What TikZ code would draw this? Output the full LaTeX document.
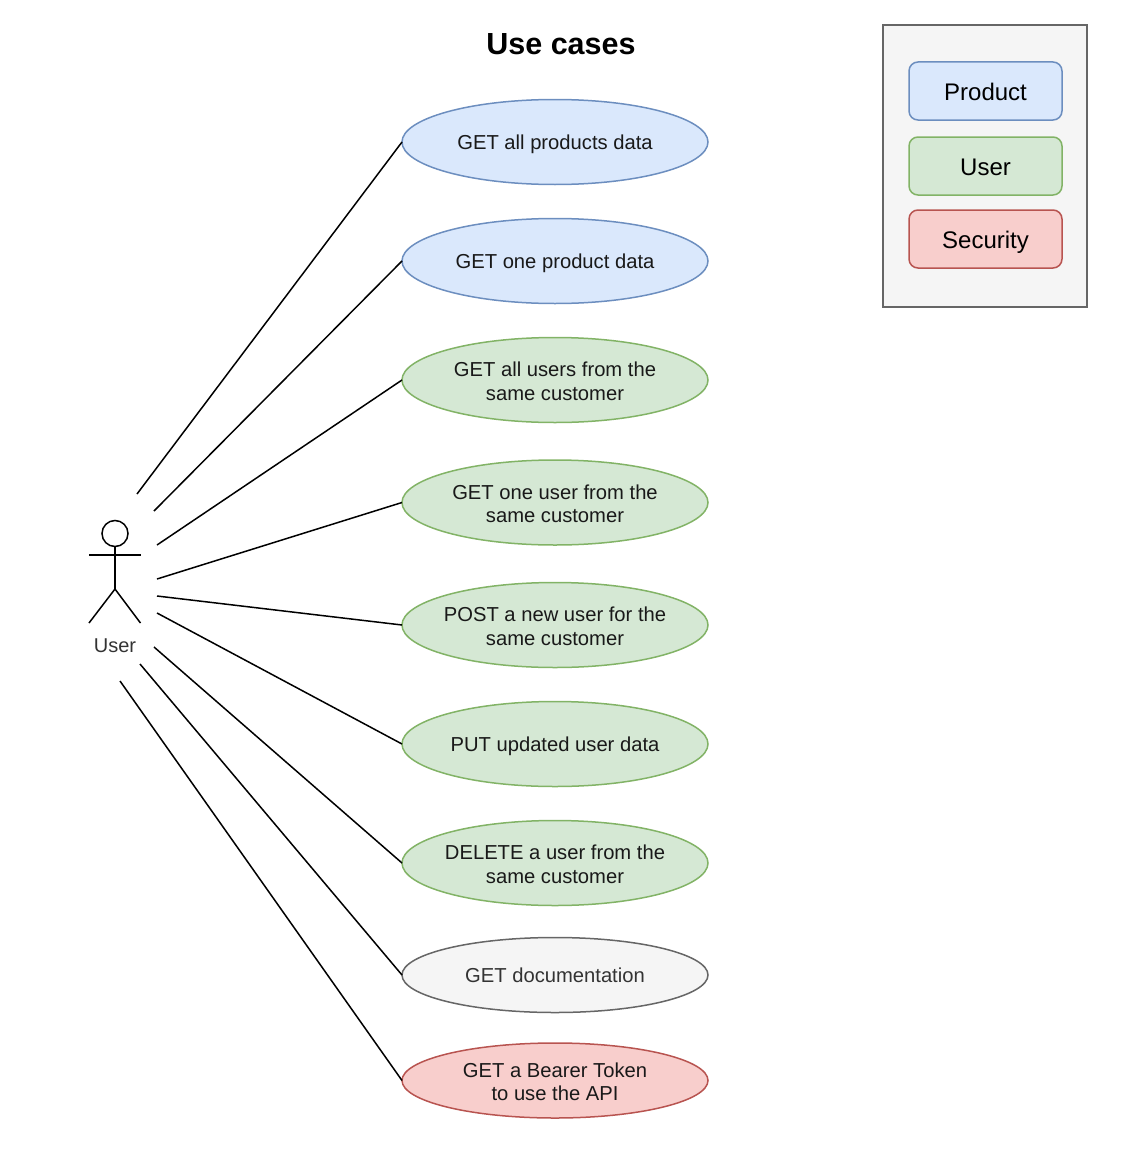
\documentclass[tikz,border=0pt]{standalone}
\usepackage{fontspec}
\setmainfont{Liberation Sans}
\usetikzlibrary{shapes.geometric}
\definecolor{bluefill}{HTML}{DAE8FC}\definecolor{blueline}{HTML}{6C8EBF}
\definecolor{greenfill}{HTML}{D5E8D4}\definecolor{greenline}{HTML}{82B366}
\definecolor{redfill}{HTML}{F8CECC}\definecolor{redline}{HTML}{B85450}
\definecolor{greyfill}{HTML}{F5F5F5}\definecolor{greyline}{HTML}{666666}
\definecolor{greytext}{HTML}{333333}
\newcommand{\toppad}{\rule{0pt}{17pt}}
\tikzset{
  x=1pt,y=-1pt,
  every node/.style={inner sep=0pt,outer sep=0pt},
  txt/.style={font=\fontsize{20.2}{23.3}\selectfont,align=center,text=black!90},
  uc/.style={shape=ellipse,draw,line width=1.5pt,inner xsep=-20pt,minimum width=306pt,minimum height=85pt,txt},
  ucsmall/.style={uc,minimum height=75pt},
  oneline/.style={execute at begin node={\rule[-4.3pt]{0pt}{23.8pt}}},
  prod/.style={fill=bluefill,draw=blueline},
  usr/.style={fill=greenfill,draw=greenline},
  sec/.style={fill=redfill,draw=redline},
  misc/.style={fill=greyfill,draw=greyline,text=greytext},
  legbox/.style={shape=rectangle,rounded corners=9pt,line width=1.5pt,minimum width=153pt,minimum height=58pt,font=\fontsize{24}{28}\selectfont,text=black,
    execute at begin node={\rule[-5pt]{0pt}{28.5pt}}},
  conn/.style={draw=black,line width=1.5pt},
}
\begin{document}
\begin{tikzpicture}
\useasboundingbox (0,0) rectangle (1122,1156);
\node[font=\bfseries\fontsize{30.5}{34}\selectfont] (title) at (561,44) {Use cases};
% legend
\node[shape=rectangle,fill=greyfill,draw=greyline,line width=1.5pt,minimum width=204pt,minimum height=282pt] (legend) at (985,166) {};
\node[legbox,prod] (lp) at (985.5,91) {Product};
\node[legbox,usr] (lu) at (985.5,166) {User};
\node[legbox,sec] (ls) at (985.5,239) {Security};
% use cases
\node[uc,prod,oneline] (e1) at (555,142) {GET all products data};
\node[uc,prod,oneline] (e2) at (555,261) {GET one product data};
\node[uc,usr] (e3) at (555,380) {\toppad GET all users from the\\same customer};
\node[uc,usr] (e4) at (555,502.5) {\toppad GET one user from the\\same customer};
\node[uc,usr] (e5) at (555,625) {\toppad POST a new user for the\\same customer};
\node[uc,usr,oneline] (e6) at (555,744) {PUT updated user data};
\node[uc,usr] (e7) at (555,863) {\toppad DELETE a user from the\\same customer};
\node[ucsmall,misc,oneline] (e8) at (555,975) {GET documentation};
\node[ucsmall,sec] (e9) at (555,1080.5) {\toppad GET a Bearer Token\\to use the API};
% actor
\draw[conn] (115,533.5) circle (13);
\draw[conn] (89,555) -- (140.5,555);
\draw[conn] (115,546.5) -- (115,589);
\draw[conn] (89,623) -- (115,589) -- (140.5,623);
\node[font=\fontsize{20}{23}\selectfont,text=greytext] (actor) at (115,646) {User};
% connector free ends
\coordinate (c1) at (137,494);
\coordinate (c2) at (154,511);
\coordinate (c3) at (157,545);
\coordinate (c4) at (157,579);
\coordinate (c5) at (157,596);
\coordinate (c6) at (157,613);
\coordinate (c7) at (154,647);
\coordinate (c8) at (140,664);
\coordinate (c9) at (120,681);
\foreach \i in {1,...,9}{\draw[conn] (c\i) -- (e\i.west);}
\end{tikzpicture}
\end{document}
